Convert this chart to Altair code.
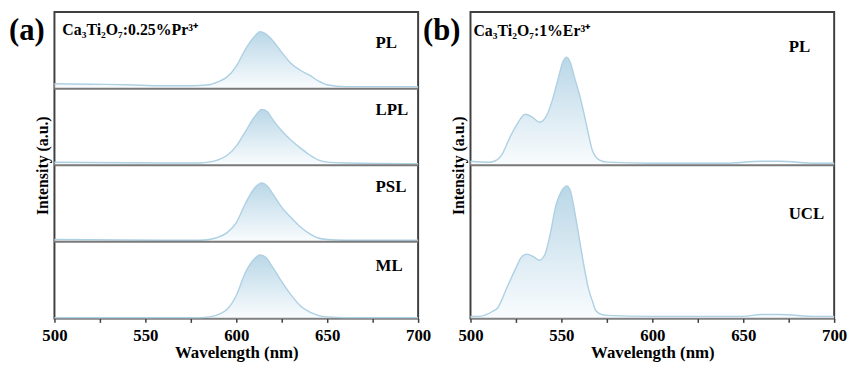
import altair as alt
import pandas as pd

# ---------------- data ----------------
# Panel (a): Ca3Ti2O7:0.25%Pr3+
a_pl_wl = [500, 520, 540, 560, 575, 585, 590, 595, 600, 605, 610, 613, 616, 620, 625, 630, 635, 640, 645, 650, 660, 680, 700]
a_pl_int = [6.4, 5.8, 5.1, 3.8, 3.8, 5.1, 9, 15.4, 29.5, 51.3, 68, 74.4, 71.8, 62.8, 47.4, 33.3, 24.4, 17.9, 10.3, 5.1, 2.6, 2.6, 2.6]

a_lpl_wl = [500, 560, 580, 585, 590, 595, 600, 605, 610, 614, 617, 620, 625, 630, 635, 640, 645, 650, 660, 700]
a_lpl_int = [4, 3, 3, 4, 7, 13, 25, 44, 63, 73, 70, 60, 45, 33, 23, 14, 7, 4, 3, 2]

a_psl_wl = [500, 560, 580, 585, 590, 595, 600, 605, 610, 614, 617, 620, 625, 630, 635, 640, 645, 650, 660, 700]
a_psl_int = [3, 2, 2, 3, 6, 12, 25, 50, 70, 77, 73, 63, 45, 32, 20, 11, 5, 3, 2, 2]

a_ml_wl = [500, 580, 585, 590, 595, 600, 605, 610, 613, 616, 620, 625, 630, 635, 640, 645, 650, 660, 700]
a_ml_int = [1, 1, 2, 5, 12, 30, 60, 78, 83, 80, 67, 48, 31, 17, 9, 4, 2, 1, 1]

# Panel (b): Ca3Ti2O7:1%Er3+
b_pl_wl = [500, 510, 513, 517, 522, 526, 530, 534, 538, 542, 545, 548, 551, 553, 555, 557, 560, 562, 565, 567, 571, 575, 600, 640, 660, 670, 690, 700]
b_pl_int = [2.6, 2, 2.6, 6.5, 19, 27.5, 33.3, 31.4, 28.1, 32.7, 42.5, 55.6, 68, 70.6, 66.7, 58.2, 45.8, 36, 19.6, 9.8, 3.3, 2, 1.3, 1.3, 2.6, 2.6, 1.3, 1.3]

b_ucl_wl = [500, 505, 509, 512, 515, 520, 525, 528, 531, 535, 538, 541, 544, 547, 550, 553, 555, 558, 560, 562, 565, 567, 569, 572, 575, 600, 650, 660, 670, 690, 700]
b_ucl_int = [1.3, 1.3, 2.6, 4.5, 7, 20, 33, 40, 42, 40, 38, 42, 56, 74, 83, 86.5, 83, 65, 51, 37, 19, 11.5, 5, 2.6, 2, 1.3, 1.3, 2.6, 2.6, 1.3, 1.3]

a_labels = ["PL", "LPL", "PSL", "ML"]
b_labels = ["PL", "UCL"]
a_formula = "Ca₃Ti₂O₇:0.25%Pr³⁺"
b_formula = "Ca₃Ti₂O₇:1%Er³⁺"
x_ticks = [500, 525, 550, 575, 600, 625, 650, 675, 700]

# ---------------- styling ----------------
FONT = "Liberation Serif"
LINE = "#aed0e3"
FRAME = "#404040"
W, H = 368, 310

grad = alt.Gradient(
    gradient="linear",
    stops=[alt.GradientStop(color="#f7fbfd", offset=0),
           alt.GradientStop(color="#9cc6dd", offset=1)],
    x1=1, x2=1, y1=1, y2=0,
)


def make_df(panels):
    rows = []
    for name, wl, val, base in panels:
        for w, v in zip(wl, val):
            rows.append({"series": name, "wl": w, "y": base + v / 100.0, "y0": base})
    return pd.DataFrame(rows)


def text_layer(txt, px, py, size=17, align="left"):
    return alt.Chart(pd.DataFrame({"t": [txt]})).mark_text(
        align=align, baseline="middle", font=FONT, fontWeight="bold",
        fontSize=size, color="black"
    ).encode(x=alt.value(px), y=alt.value(py), text="t:N")


def column(df, n, label_specs, formula, fx, fy, tag, tx):
    xenc = alt.X("wl:Q", scale=alt.Scale(domain=[500, 700], nice=False),
                 axis=alt.Axis(title="Wavelength (nm)", values=x_ticks,
                               labelExpr="datum.value % 50 == 0 ? datum.label : ''",
                               tickSize=4, labelPadding=5, titlePadding=2,
                               labelFontSize=17, titleFontSize=17, labelFlush=False))
    yaxis = alt.Axis(title="Intensity (a.u.)", labels=False, ticks=False,
                     domain=False, grid=False, titlePadding=4, titleFontSize=16)
    yenc = alt.Y("y:Q", scale=alt.Scale(domain=[0, n], nice=False, zero=False), axis=yaxis)

    area = alt.Chart(df).mark_area(
        interpolate="monotone", color=grad,
        line={"color": LINE, "strokeWidth": 1.4},
    ).encode(x=xenc, y=yenc, y2=alt.Y2("y0:Q"), detail="series:N")

    rules = alt.Chart(pd.DataFrame({"y": list(range(1, n))})).mark_rule(
        color="#7a7a7a", strokeWidth=2
    ).encode(y=alt.Y("y:Q", scale=alt.Scale(domain=[0, n], nice=False, zero=False), axis=yaxis))

    layers = [area, rules]
    for txt, px, py in label_specs:
        layers.append(text_layer(txt, px, py))
    layers.append(text_layer(formula, fx, fy, size=16))
    layers.append(text_layer(tag, tx, 19, size=31))
    return alt.layer(*layers).properties(width=W, height=H)


df_a = make_df([
    ("PL", a_pl_wl, a_pl_int, 3),
    ("LPL", a_lpl_wl, a_lpl_int, 2),
    ("PSL", a_psl_wl, a_psl_int, 1),
    ("ML", a_ml_wl, a_ml_int, 0),
])
df_b = make_df([
    ("PL", b_pl_wl, b_pl_int, 1),
    ("UCL", b_ucl_wl, b_ucl_int, 0),
])

left = column(df_a, 4,
              [(a_labels[0], 325, 31), (a_labels[1], 325, 99),
               (a_labels[2], 325, 177), (a_labels[3], 325, 257)],
              a_formula, 8, 18, "(a)", -46)
right = column(df_b, 2,
               [(b_labels[0], 322, 35), (b_labels[1], 322, 204)],
               b_formula, 3, 19, "(b)", -48)

chart = alt.hconcat(left, right, spacing=53, bounds="flush").properties(
    padding={"left": 0, "top": 1, "right": 0, "bottom": 0}
).configure_view(
    stroke=FRAME, strokeWidth=2
).configure_axis(
    labelFont=FONT, titleFont=FONT, labelFontWeight="bold", titleFontWeight="bold",
    labelColor="black", titleColor="black", tickColor=FRAME, tickWidth=1.5,
    domain=False, grid=False
)

chart.save("out.html", embed_options={"renderer": "svg", "actions": False})
